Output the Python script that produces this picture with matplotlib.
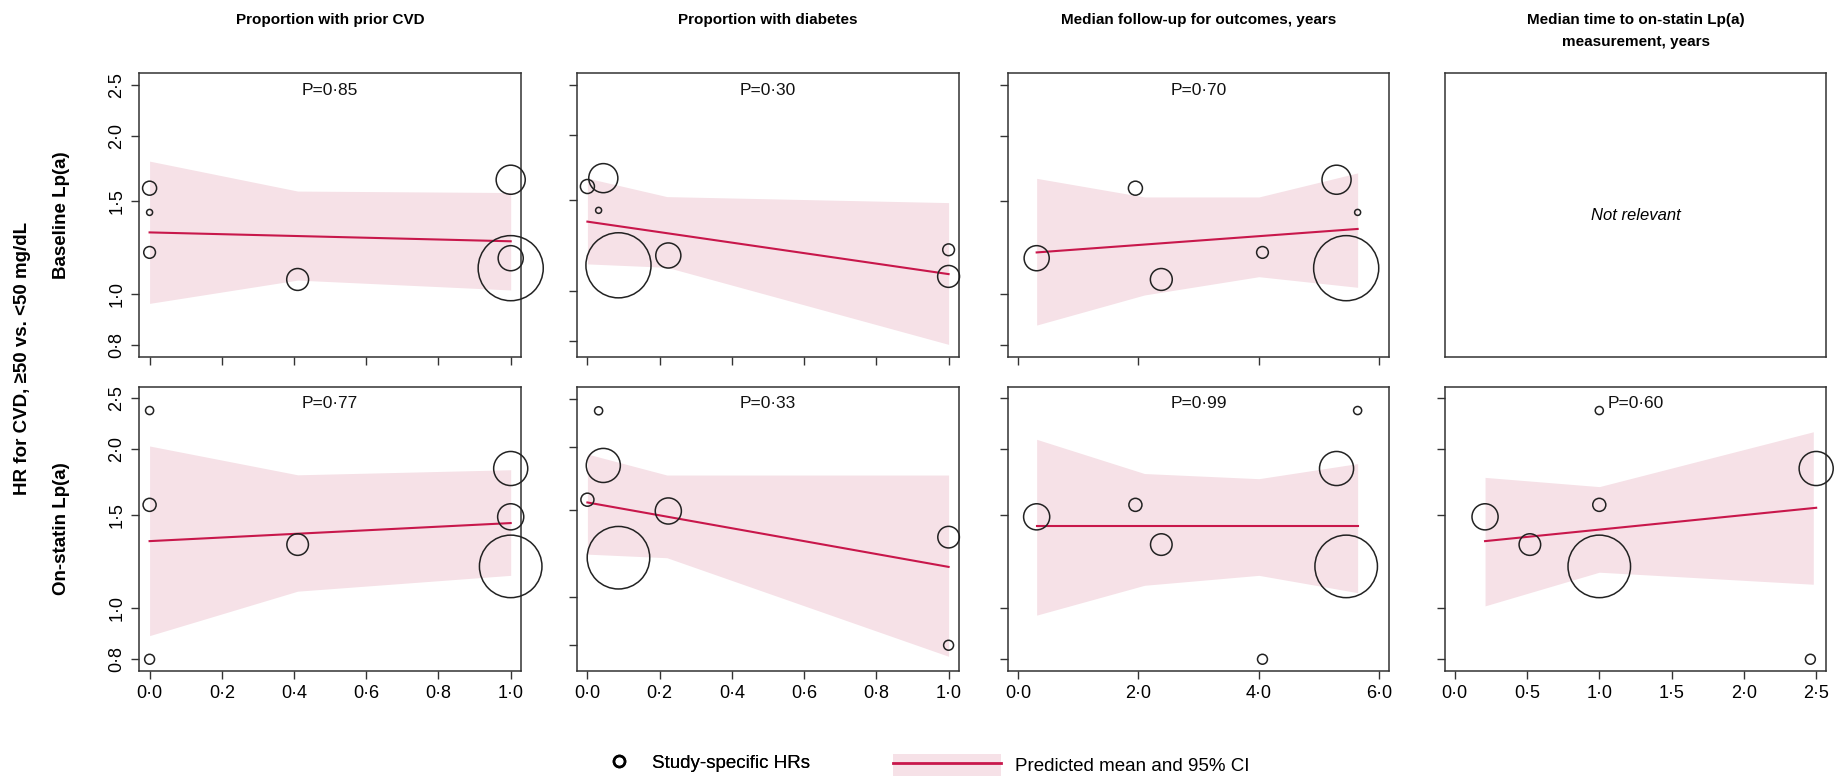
import matplotlib
matplotlib.use('Agg')
import matplotlib.pyplot as plt
from matplotlib.lines import Line2D
from matplotlib.patches import Patch
from matplotlib.legend_handler import HandlerTuple
from matplotlib.ticker import FixedLocator, FixedFormatter, NullLocator
import numpy as np

plt.rcParams['font.family'] = ['Liberation Sans', 'DejaVu Sans']

# study-level values (same seven studies in every panel)
prior_cvd = [0.0, 0.0, 0.0, 0.41, 1.0, 1.0, 1.0]
diabetes = [0.0, 0.031, 1.0, 1.0, 0.044, 0.224, 0.086]
followup = [1.95, 5.64, 4.06, 2.38, 5.29, 0.31, 5.45]
statin_time = [1.0, 1.0, 2.46, 0.52, 2.50, 0.21, 1.0]
hr_baseline = [1.59, 1.43, 1.20, 1.066, 1.65, 1.17, 1.12]
hr_onstatin = [1.57, 2.37, 0.80, 1.32, 1.84, 1.49, 1.20]
weights_baseline = [3.0, 0.55, 2.1, 7.3, 12.9, 9.6, 64.6]
weights_onstatin = [2.6, 1.0, 1.5, 7.1, 17.7, 10.4, 59.6]

col_titles = ['Proportion with prior CVD', 'Proportion with diabetes',
              'Median follow-up for outcomes, years',
              'Median time to on-statin Lp(a)\nmeasurement, years']
row_labels = ['Baseline Lp(a)', 'On-statin Lp(a)']
p_baseline = ['0·85', '0·30', '0·70', None]
p_onstatin = ['0·77', '0·33', '0·99', '0·60']

# meta-regression fits: line end points and band outline
cvd_line_x = [0.0, 1.0]
cvd_base_line = [1.31, 1.26]
cvd_band_x = [0.0, 0.41, 1.0]
cvd_base_lo = [0.96, 1.063, 1.018]
cvd_base_hi = [1.79, 1.57, 1.56]
cvd_stat_line = [1.34, 1.45]
cvd_stat_lo = [0.887, 1.077, 1.154]
cvd_stat_hi = [2.03, 1.79, 1.83]

dm_line_x = [0.0, 1.0]
dm_base_line = [1.36, 1.077]
dm_band_x = [0.0, 0.22, 1.0]
dm_base_lo = [1.127, 1.11, 0.788]
dm_base_hi = [1.65, 1.52, 1.48]
dm_stat_line = [1.55, 1.15]
dm_stat_lo = [1.22, 1.20, 0.76]
dm_stat_hi = [1.94, 1.76, 1.76]

fu_line_x = [0.31, 5.64]
fu_base_line = [1.20, 1.33]
fu_band_x = [0.31, 2.1, 4.0, 5.64]
fu_base_lo = [0.873, 0.996, 1.079, 1.03]
fu_base_hi = [1.66, 1.53, 1.53, 1.70]
fu_stat_line = [1.43, 1.43]
fu_stat_lo = [0.97, 1.105, 1.154, 1.07]
fu_stat_hi = [2.09, 1.80, 1.76, 1.88]

st_line_x = [0.21, 2.50]
st_stat_line = [1.34, 1.55]
st_band_x = [0.21, 1.0, 2.48]
st_stat_lo = [1.01, 1.17, 1.11]
st_stat_hi = [1.77, 1.70, 2.16]

y_ticks = [0.8, 1.0, 1.5, 2.0, 2.5]
x_ticks = [[0, 0.2, 0.4, 0.6, 0.8, 1.0], [0, 0.2, 0.4, 0.6, 0.8, 1.0],
           [0, 2, 4, 6], [0, 0.5, 1.0, 1.5, 2.0, 2.5]]
x_lims = [(-0.0285, 1.0277), (-0.028, 1.028), (-0.161, 6.166), (-0.067, 2.568)]
y_lims = [[(0.76, 2.63), (0.746, 2.63), (0.76, 2.63), (0.76, 2.63)],
          [(0.76, 2.63), (0.71, 2.65), (0.76, 2.63), (0.76, 2.63)]]

cov_x = [prior_cvd, diabetes, followup, statin_time]
fits = [
    [(cvd_line_x, cvd_base_line, cvd_band_x, cvd_base_lo, cvd_base_hi),
     (dm_line_x, dm_base_line, dm_band_x, dm_base_lo, dm_base_hi),
     (fu_line_x, fu_base_line, fu_band_x, fu_base_lo, fu_base_hi),
     None],
    [(cvd_line_x, cvd_stat_line, cvd_band_x, cvd_stat_lo, cvd_stat_hi),
     (dm_line_x, dm_stat_line, dm_band_x, dm_stat_lo, dm_stat_hi),
     (fu_line_x, fu_stat_line, fu_band_x, fu_stat_lo, fu_stat_hi),
     (st_line_x, st_stat_line, st_band_x, st_stat_lo, st_stat_hi)],
]
row_hr = [hr_baseline, hr_onstatin]
row_w = [weights_baseline, weights_onstatin]
row_p = [p_baseline, p_onstatin]

band_col = '#f6e1e7'
line_col = '#c8174b'
edge_col = '#222222'

W, H = 1842, 779
DPI = 100
fig = plt.figure(figsize=(W / DPI, H / DPI), dpi=DPI)

col_px = [(139.3, 520.7), (577.3, 958.7), (1008.3, 1389.3), (1445, 1826)]
row_px = [(73.3, 356.7), (386.7, 671)]


def dot(v, nd=1):
    return f'{v:.{nd}f}'.replace('.', '\u00b7')


def circle_size(w):
    r = 4.05 * np.sqrt(w)          # radius in pixels
    return (2 * r * 72 / DPI) ** 2


for r, (y0, y1) in enumerate(row_px):
    for c, (x0, x1) in enumerate(col_px):
        ax = fig.add_axes([x0 / W, 1 - y1 / H, (x1 - x0) / W, (y1 - y0) / H])
        for s in ax.spines.values():
            s.set_linewidth(1.1)
            s.set_color('#333333')
        ax.set_yscale('log')
        ax.set_xlim(*x_lims[c])
        ax.set_ylim(*y_lims[r][c])
        ax.yaxis.set_minor_locator(NullLocator())
        ax.xaxis.set_minor_locator(NullLocator())

        if r == 0 and c == 3:
            ax.set_xticks([])
            ax.set_yticks([])
            ax.text(0.5, 0.5, 'Not relevant', transform=ax.transAxes,
                    ha='center', va='center', fontsize=12, style='italic')
            continue

        fit = fits[r][c]
        lx, ly, bx, blo, bhi = fit
        ax.fill_between(bx, blo, bhi, color=band_col, lw=0, zorder=1)
        ax.plot(lx, ly, color=line_col, lw=1.5, zorder=2)
        sizes = [circle_size(w) for w in row_w[r]]
        ax.scatter(cov_x[c], row_hr[r], s=sizes, facecolors='none',
                   edgecolors=edge_col, linewidths=1.1, zorder=3, clip_on=False)
        if row_p[r][c]:
            ax.text(0.5, 1 - 17 / (y1 - y0), 'P=' + row_p[r][c], transform=ax.transAxes,
                    ha='center', va='center', fontsize=12.5, color='#111111')

        ax.yaxis.set_major_locator(FixedLocator(y_ticks))
        ax.yaxis.set_major_formatter(FixedFormatter([dot(t) for t in y_ticks]))
        ax.xaxis.set_major_locator(FixedLocator(x_ticks[c]))
        ax.xaxis.set_major_formatter(FixedFormatter([dot(t) for t in x_ticks[c]]))
        ax.tick_params(axis='both', direction='out', length=6, width=1.0,
                       color='#333333', labelsize=13, pad=4)
        ax.tick_params(axis='y', labelrotation=90)
        for lab in ax.get_yticklabels():
            lab.set_va('center')
        if c != 0:
            ax.tick_params(axis='y', labelleft=False)
        if r == 0:
            ax.tick_params(axis='x', labelbottom=False)

# column titles
for c, (x0, x1) in enumerate(col_px):
    fig.text((x0 + x1) / 2 / W, 1 - 13 / H, col_titles[c], ha='center', va='top',
             fontsize=11, fontweight='bold', linespacing=1.75)

# row labels and shared y label
for r, (y0, y1) in enumerate(row_px):
    fig.text(61 / W, 1 - (y0 + y1) / 2 / H, row_labels[r], rotation=90,
             ha='center', va='center', fontsize=13.5, fontweight='bold')
fig.text(23 / W, 1 - 358 / H, 'HR for CVD, \u226550 vs. <50 mg/dL', rotation=90,
         ha='center', va='center', fontsize=13.5, fontweight='bold')

# legend
circ = Line2D([], [], marker='o', ls='none', mfc='none', mec='black', mew=1.8, ms=8)
leg1 = fig.legend([circ], ['Study-specific HRs'], loc='center left',
                  bbox_to_anchor=(600 / W, 1 - 763 / H), frameon=False, fontsize=13.5,
                  handlelength=2.0, handletextpad=0.8, borderpad=0, borderaxespad=0)
band_h = Patch(facecolor=band_col, edgecolor='none')
line_h = Line2D([], [], color=line_col, lw=2)
fig.legend([(band_h, line_h)], ['Predicted mean and 95% CI'], loc='center left',
           bbox_to_anchor=(892.5 / W, 1 - 765 / H), frameon=False, fontsize=13.5,
           handlelength=5.8, handleheight=1.42, handletextpad=0.71, borderpad=0,
           borderaxespad=0, handler_map={tuple: HandlerTuple(ndivide=1)})
fig.add_artist(leg1)

fig.savefig('out.png', dpi=DPI)
